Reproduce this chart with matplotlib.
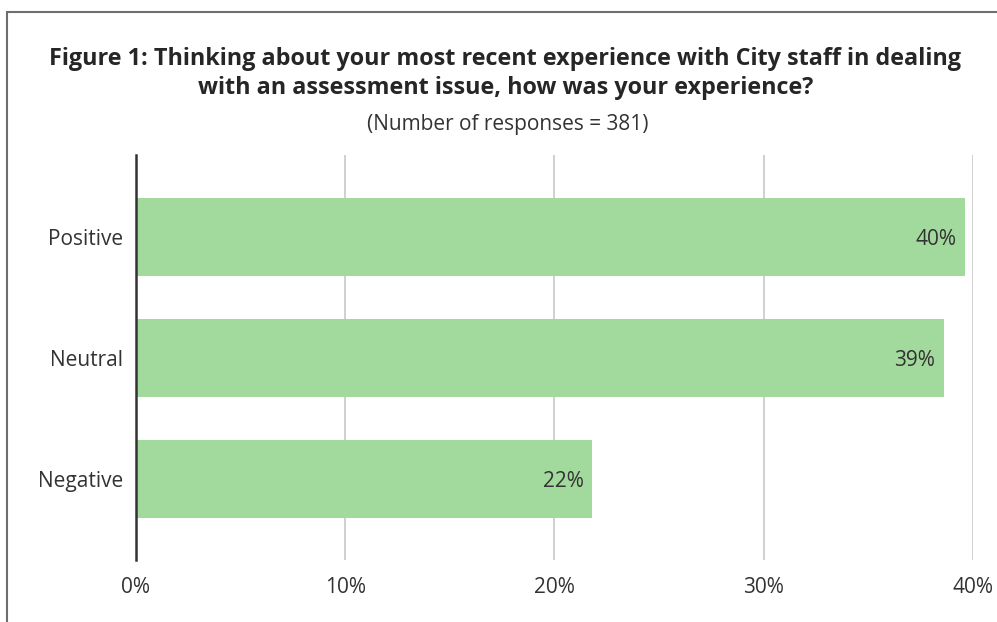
import matplotlib.pyplot as plt
from matplotlib.patches import Rectangle

categories = ["Positive", "Neutral", "Negative"]
values = [39.6, 38.6, 21.8]
labels = ["40%", "39%", "22%"]
ticks = [0, 10, 20, 30, 40]

plt.rcParams['font.family'] = ['Open Sans', 'DejaVu Sans']

fig = plt.figure(figsize=(9.97, 6.22), dpi=100)
ax = fig.add_axes([0.1364, 0.0997, 0.8395, 0.6511])

ax.barh(range(len(categories)), values, height=0.645, color='#a2d99c', zorder=2)
for i, (v, t) in enumerate(zip(values, labels)):
    ax.text(v - 0.4, i + 0.02, t, ha='right', va='center', fontsize=15, color='#333333', zorder=3)

ax.set_xlim(0, 40)
ax.set_ylim(2.67, -0.675)
ax.set_yticks(range(len(categories)))
ax.set_yticklabels(categories, fontsize=15, color='#333333')
ax.set_xticks(ticks)
ax.set_xticklabels([f"{t}%" for t in ticks], fontsize=15, color='#333333')
ax.tick_params(length=0, pad=12)
ax.tick_params(axis='y', pad=9)
ax.grid(axis='x', color='#c8c8c8', linewidth=1.2, zorder=0)
for s in ['top', 'right', 'bottom']:
    ax.spines[s].set_visible(False)
ax.spines['left'].set_color('#333333')
ax.spines['left'].set_linewidth(1.8)
ax.spines['left'].set_zorder(4)

fig.text(0.507, 0.882, "Figure 1: Thinking about your most recent experience with City staff in dealing\nwith an assessment issue, how was your experience?",
         ha='center', va='center', fontsize=16.8, fontweight='bold', color='#262626', linespacing=1.28)
fig.text(0.509, 0.8, "(Number of responses = 381)", ha='center', va='center', fontsize=15, color='#333333')

# outer frame
fig.patches.append(Rectangle((0.007, -0.05), 1.1, 1.03, transform=fig.transFigure,
                             fill=False, edgecolor='#6e6e6e', linewidth=1.5))

fig.savefig('out.png', dpi=100)
